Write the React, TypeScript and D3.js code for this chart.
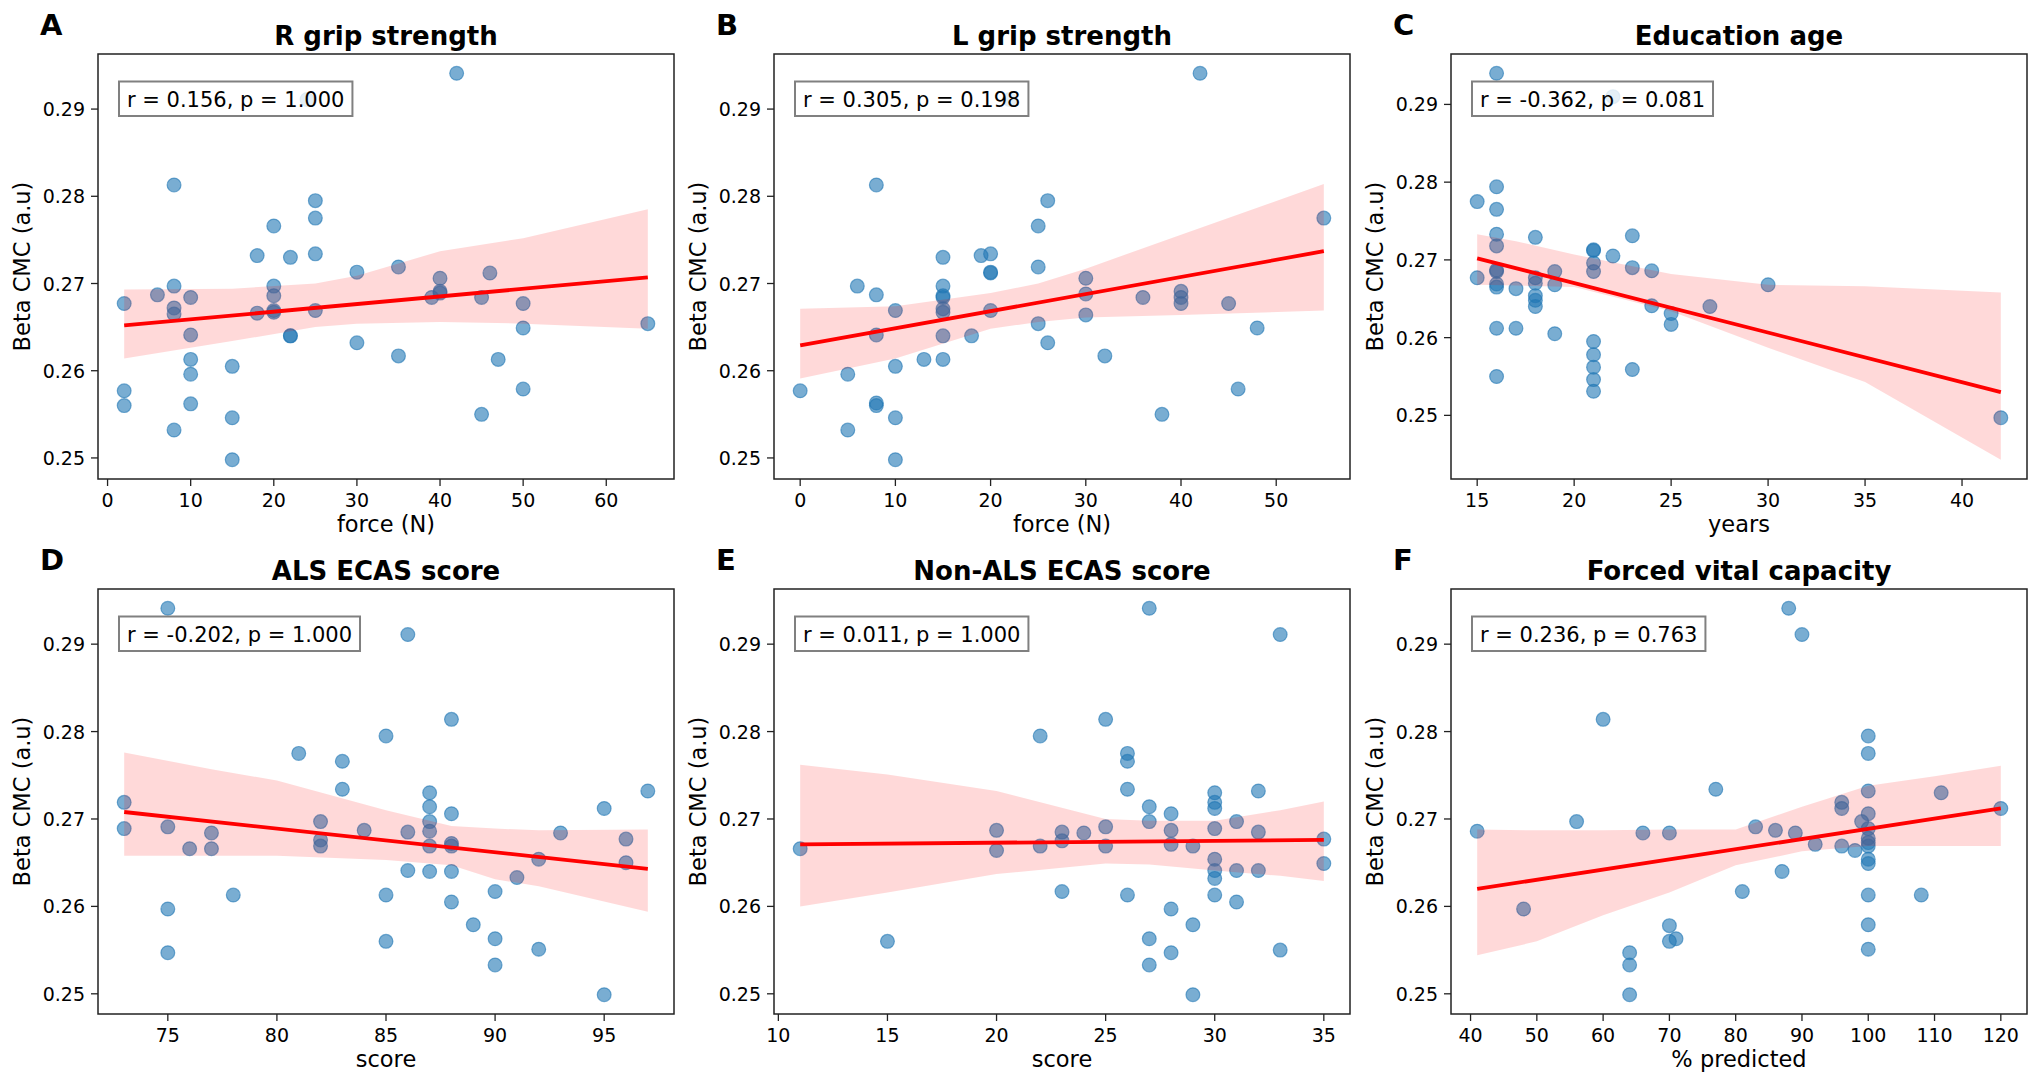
import React from 'react';
import * as d3 from 'd3';

const W = 2042;
const H = 1075;

// ---- data ----
// A: R grip strength
const rGripX = [42, 24, 8, 25, 25, 20, 18, 22, 25, 35, 30, 46, 40, 8, 20, 6, 20, 10, 40, 40, 39, 45, 2, 50, 8, 8, 18, 20, 20, 25, 65, 50, 10, 22, 22, 30, 35, 10, 47, 15, 10, 2, 50, 2, 10, 45, 15, 8, 15];
const rGripY = [0.2941, 0.2911, 0.2813, 0.2795, 0.2775, 0.2766, 0.2732, 0.2730, 0.2734, 0.2719, 0.2713, 0.2712, 0.2706, 0.2697, 0.2697, 0.2687, 0.2686, 0.2684, 0.2691, 0.2689, 0.2684, 0.2684, 0.2677, 0.2677, 0.2672, 0.2665, 0.2666, 0.2669, 0.2667, 0.2669, 0.2654, 0.2649, 0.2641, 0.2640, 0.2640, 0.2632, 0.2617, 0.2613, 0.2613, 0.2605, 0.2596, 0.2577, 0.2579, 0.2560, 0.2562, 0.2550, 0.2546, 0.2532, 0.2498];
const rGripFitX = [2, 65];
const rGripFitY = [0.2652, 0.2707];
const rGripBandX = [2, 15, 25, 30, 40, 50, 65];
const rGripBandLo = [0.2614, 0.2634, 0.2650, 0.2654, 0.2656, 0.2654, 0.2648];
const rGripBandHi = [0.2693, 0.2694, 0.2700, 0.2709, 0.2737, 0.2752, 0.2785];
const rGripTicks = [0, 10, 20, 30, 40, 50, 60];

// B: L grip strength
const lGripX = [42, 22, 8, 26, 55, 25, 15, 19, 20, 25, 20, 20, 30, 6, 15, 8, 15, 15, 30, 36, 40, 40, 40, 45, 10, 15, 15, 20, 30, 25, 48, 8, 15, 18, 26, 32, 13, 15, 10, 5, 0, 46, 8, 8, 38, 10, 5, 10];
const lGripY = [0.2941, 0.2911, 0.2813, 0.2795, 0.2775, 0.2766, 0.2730, 0.2732, 0.2734, 0.2719, 0.2713, 0.2712, 0.2706, 0.2697, 0.2697, 0.2687, 0.2686, 0.2684, 0.2688, 0.2684, 0.2691, 0.2684, 0.2677, 0.2677, 0.2669, 0.2671, 0.2667, 0.2669, 0.2664, 0.2654, 0.2649, 0.2641, 0.2640, 0.2640, 0.2632, 0.2617, 0.2613, 0.2613, 0.2605, 0.2596, 0.2577, 0.2579, 0.2563, 0.2560, 0.2550, 0.2546, 0.2532, 0.2498];
const lGripFitX = [0, 55];
const lGripFitY = [0.2629, 0.2737];
const lGripBandX = [0, 10, 20, 25, 30, 40, 55];
const lGripBandLo = [0.2591, 0.2614, 0.2648, 0.2656, 0.2661, 0.2664, 0.2669];
const lGripBandHi = [0.2671, 0.2674, 0.2689, 0.2700, 0.2717, 0.2756, 0.2814];
const lGripTicks = [0, 10, 20, 30, 40, 50];

// C: Education age
const eduX = [16, 22, 16, 15, 16, 16, 18, 23, 16, 21, 21, 22, 21, 23, 16, 16, 19, 21, 24, 30, 15, 18, 18, 16, 16, 17, 19, 18, 18, 18, 24, 27, 25, 25, 16, 17, 19, 21, 21, 21, 23, 16, 21, 21, 42];
const eduY = [0.2940, 0.2910, 0.2794, 0.2775, 0.2765, 0.2733, 0.2729, 0.2731, 0.2718, 0.2713, 0.2712, 0.2705, 0.2696, 0.2690, 0.2687, 0.2685, 0.2685, 0.2685, 0.2686, 0.2668, 0.2677, 0.2677, 0.2670, 0.2669, 0.2665, 0.2663, 0.2668, 0.2654, 0.2648, 0.2640, 0.2641, 0.2640, 0.2631, 0.2617, 0.2612, 0.2612, 0.2605, 0.2595, 0.2578, 0.2562, 0.2559, 0.2550, 0.2546, 0.2531, 0.2497];
const eduFitX = [15, 42];
const eduFitY = [0.2702, 0.2530];
const eduBandX = [15, 17, 20, 25, 30, 35, 42];
const eduBandLo = [0.2668, 0.2667, 0.2665, 0.2634, 0.2587, 0.2543, 0.2443];
const eduBandHi = [0.2733, 0.2724, 0.2707, 0.2682, 0.2668, 0.2666, 0.2658];
const eduTicks = [15, 20, 25, 30, 35, 40];

// D: ALS ECAS score
const alsX = [75, 86, 88, 85, 81, 83, 83, 87, 97, 73, 87, 95, 88, 82, 87, 73, 75, 84, 86, 87, 77, 93, 96, 82, 82, 87, 88, 88, 76, 77, 92, 96, 86, 87, 88, 91, 90, 78, 85, 88, 75, 89, 90, 85, 92, 75, 90, 95];
const alsY = [0.2941, 0.2911, 0.2814, 0.2795, 0.2775, 0.2766, 0.2734, 0.2730, 0.2732, 0.2719, 0.2714, 0.2712, 0.2706, 0.2697, 0.2697, 0.2689, 0.2691, 0.2687, 0.2685, 0.2686, 0.2684, 0.2684, 0.2677, 0.2676, 0.2669, 0.2669, 0.2672, 0.2669, 0.2666, 0.2666, 0.2654, 0.2650, 0.2641, 0.2640, 0.2640, 0.2633, 0.2617, 0.2613, 0.2613, 0.2605, 0.2597, 0.2579, 0.2563, 0.2560, 0.2551, 0.2547, 0.2533, 0.2499];
const alsFitX = [73, 97];
const alsFitY = [0.2708, 0.2643];
const alsBandX = [73, 77, 80, 85, 88, 90, 92, 97];
const alsBandLo = [0.2658, 0.2658, 0.2658, 0.2653, 0.2647, 0.2631, 0.2623, 0.2594];
const alsBandHi = [0.2776, 0.2757, 0.2744, 0.2710, 0.2692, 0.2689, 0.2687, 0.2688];
const alsTicks = [75, 80, 85, 90, 95];

// E: Non-ALS ECAS score
const nonAlsX = [27, 33, 25, 22, 26, 26, 26, 30, 32, 30, 27, 30, 28, 27, 31, 20, 25, 28, 30, 23, 24, 32, 35, 23, 22, 25, 28, 29, 11, 20, 30, 35, 30, 31, 32, 30, 23, 26, 30, 31, 28, 29, 27, 15, 33, 28, 27, 29];
const nonAlsY = [0.2941, 0.2911, 0.2814, 0.2795, 0.2775, 0.2766, 0.2734, 0.2730, 0.2732, 0.2719, 0.2714, 0.2712, 0.2706, 0.2697, 0.2697, 0.2687, 0.2691, 0.2687, 0.2689, 0.2685, 0.2684, 0.2685, 0.2677, 0.2675, 0.2669, 0.2669, 0.2671, 0.2669, 0.2666, 0.2664, 0.2654, 0.2649, 0.2641, 0.2641, 0.2641, 0.2632, 0.2617, 0.2613, 0.2613, 0.2605, 0.2597, 0.2579, 0.2563, 0.2560, 0.2550, 0.2547, 0.2533, 0.2499];
const nonAlsFitX = [11, 35];
const nonAlsFitY = [0.2671, 0.2676];
const nonAlsBandX = [11, 15, 20, 25, 27, 30, 33, 35];
const nonAlsBandLo = [0.2600, 0.2616, 0.2637, 0.2649, 0.2648, 0.2641, 0.2635, 0.2629];
const nonAlsBandHi = [0.2762, 0.2751, 0.2732, 0.2700, 0.2698, 0.2698, 0.2710, 0.2720];
const nonAlsTicks = [10, 15, 20, 25, 30, 35];

// F: Forced vital capacity
const fvcX = [88, 90, 60, 100, 100, 77, 100, 111, 96, 96, 120, 100, 56, 99, 41, 83, 86, 100, 66, 70, 89, 100, 100, 92, 96, 100, 98, 100, 100, 87, 81, 100, 108, 48, 70, 70, 71, 100, 100, 64, 64, 64];
const fvcY = [0.2941, 0.2911, 0.2814, 0.2795, 0.2775, 0.2734, 0.2732, 0.2730, 0.2719, 0.2712, 0.2712, 0.2706, 0.2697, 0.2697, 0.2686, 0.2691, 0.2687, 0.2689, 0.2684, 0.2684, 0.2684, 0.2678, 0.2673, 0.2671, 0.2669, 0.2669, 0.2664, 0.2654, 0.2649, 0.2640, 0.2617, 0.2613, 0.2613, 0.2597, 0.2578, 0.2560, 0.2563, 0.2579, 0.2551, 0.2547, 0.2533, 0.2499];
const fvcFitX = [41, 120];
const fvcFitY = [0.2620, 0.2712];
const fvcBandX = [41, 50, 60, 70, 80, 90, 100, 110, 120];
const fvcBandLo = [0.2544, 0.2560, 0.2590, 0.2616, 0.2647, 0.2663, 0.2669, 0.2669, 0.2669];
const fvcBandHi = [0.2688, 0.2687, 0.2687, 0.2688, 0.2688, 0.2714, 0.2738, 0.2749, 0.2761];
const fvcTicks = [40, 50, 60, 70, 80, 90, 100, 110, 120];

const yTicks = [0.25, 0.26, 0.27, 0.28, 0.29];

const panels = [
  { letter: 'A', title: 'R grip strength', xlabel: 'force (N)', xs: rGripX, ys: rGripY, fitX: rGripFitX, fitY: rGripFitY, bandX: rGripBandX, lo: rGripBandLo, hi: rGripBandHi, xticks: rGripTicks, stat: 'r = 0.156, p = 1.000' },
  { letter: 'B', title: 'L grip strength', xlabel: 'force (N)', xs: lGripX, ys: lGripY, fitX: lGripFitX, fitY: lGripFitY, bandX: lGripBandX, lo: lGripBandLo, hi: lGripBandHi, xticks: lGripTicks, stat: 'r = 0.305, p = 0.198' },
  { letter: 'C', title: 'Education age', xlabel: 'years', xs: eduX, ys: eduY, fitX: eduFitX, fitY: eduFitY, bandX: eduBandX, lo: eduBandLo, hi: eduBandHi, xticks: eduTicks, stat: 'r = -0.362, p = 0.081' },
  { letter: 'D', title: 'ALS ECAS score', xlabel: 'score', xs: alsX, ys: alsY, fitX: alsFitX, fitY: alsFitY, bandX: alsBandX, lo: alsBandLo, hi: alsBandHi, xticks: alsTicks, stat: 'r = -0.202, p = 1.000' },
  { letter: 'E', title: 'Non-ALS ECAS score', xlabel: 'score', xs: nonAlsX, ys: nonAlsY, fitX: nonAlsFitX, fitY: nonAlsFitY, bandX: nonAlsBandX, lo: nonAlsBandLo, hi: nonAlsBandHi, xticks: nonAlsTicks, stat: 'r = 0.011, p = 1.000' },
  { letter: 'F', title: 'Forced vital capacity', xlabel: '% predicted', xs: fvcX, ys: fvcY, fitX: fvcFitX, fitY: fvcFitY, bandX: fvcBandX, lo: fvcBandLo, hi: fvcBandHi, xticks: fvcTicks, stat: 'r = 0.236, p = 0.763' },
];

const colLeft = [98, 774, 1451];
const rowTop = [54, 589];
const axW = 576;
const axH = 425;
const FONT = 'DejaVu Sans, sans-serif';
const BLUE = '#1f77b4';

// rough DejaVu Sans advance widths (em) for the stat box
const charW: Record<string, number> = { ' ': 0.318, '.': 0.318, ',': 0.318, '=': 0.838, r: 0.411, p: 0.635, '-': 0.361 };
const textWidth = (s: string, size: number) =>
  s.split('').reduce((a, c) => a + (charW[c] ?? 0.636), 0) * size;

function Panel({ p, left, top }: { p: any; left: number; top: number }) {
  const [x0, x1] = d3.extent(p.xs as number[]) as [number, number];
  const xPad = (x1 - x0) * 0.05;
  const x = d3.scaleLinear().domain([x0 - xPad, x1 + xPad]).range([left, left + axW]);

  // y limits like matplotlib autoscale: data + band, 5% margin
  const yLo = Math.min(d3.min(p.ys as number[])!, d3.min(p.lo as number[])!);
  const yHi = Math.max(d3.max(p.ys as number[])!, d3.max(p.hi as number[])!);
  const yPad = (yHi - yLo) * 0.05;
  const y = d3.scaleLinear().domain([yLo - yPad, yHi + yPad]).range([top + axH, top]);

  const band = d3.area<number>()
    .x((d) => x(d))
    .y0((_, i) => y(p.lo[i]))
    .y1((_, i) => y(p.hi[i]));
  const fit = d3.line<number>()
    .x((d) => x(d))
    .y((_, i) => y(p.fitY[i]));

  const statW = textWidth(p.stat, 21) + 16;

  return (
    <g>
      {/* scatter */}
      {p.xs.map((xv: number, i: number) => (
        <circle key={i} cx={x(xv)} cy={y(p.ys[i])} r={6.9}
          fill={BLUE} fillOpacity={0.6} stroke={BLUE} strokeOpacity={0.6} strokeWidth={1.2} />
      ))}
      {/* confidence band + fit */}
      <path d={band(p.bandX) || ''} fill="red" fillOpacity={0.15} stroke="none" />
      <path d={fit(p.fitX) || ''} fill="none" stroke="red" strokeWidth={3.8} />

      {/* stat box */}
      <rect x={left + 21} y={top + 27.5} width={statW} height={34.5}
        fill="white" fillOpacity={0.8} stroke="#808080" strokeWidth={2} />
      <text x={left + 29} y={top + 52.5} fontFamily={FONT} fontSize={21} fill="black">{p.stat}</text>

      {/* frame */}
      <rect x={left} y={top} width={axW} height={axH} fill="none" stroke="#222" strokeWidth={1.5} />

      {/* y axis */}
      {yTicks.filter((t) => y(t) >= top && y(t) <= top + axH).map((t) => (
        <g key={'y' + t}>
          <line x1={left - 7} x2={left} y1={y(t)} y2={y(t)} stroke="#222" strokeWidth={1.3} />
          <text x={left - 13} y={y(t) + 7} textAnchor="end" fontFamily={FONT} fontSize={19}>{t.toFixed(2)}</text>
        </g>
      ))}
      <text transform={`translate(${left - 68},${top + axH / 2}) rotate(-90)`} textAnchor="middle"
        fontFamily={FONT} fontSize={22.5}>Beta CMC (a.u)</text>

      {/* x axis */}
      {p.xticks.map((t: number) => (
        <g key={'x' + t}>
          <line x1={x(t)} x2={x(t)} y1={top + axH} y2={top + axH + 7} stroke="#222" strokeWidth={1.3} />
          <text x={x(t)} y={top + axH + 28} textAnchor="middle" fontFamily={FONT} fontSize={19}>{t}</text>
        </g>
      ))}
      <text x={left + axW / 2} y={top + axH + 53} textAnchor="middle" fontFamily={FONT} fontSize={22.5}>{p.xlabel}</text>

      {/* title + panel letter */}
      <text x={left + axW / 2} y={top - 9.5} textAnchor="middle" fontFamily={FONT} fontWeight="bold" fontSize={26}>{p.title}</text>
      <text x={left - 58} y={top - 19} fontFamily={FONT} fontWeight="bold" fontSize={29}>{p.letter}</text>
    </g>
  );
}

export default function App() {
  return (
    <div style={{ position: 'absolute', left: 0, top: 0 }}>
      <svg width={W} height={H} style={{ display: 'block', background: 'white' }}>
        {panels.map((p, i) => (
          <Panel key={p.letter} p={p} left={colLeft[i % 3]} top={rowTop[Math.floor(i / 3)]} />
        ))}
      </svg>
    </div>
  );
}
